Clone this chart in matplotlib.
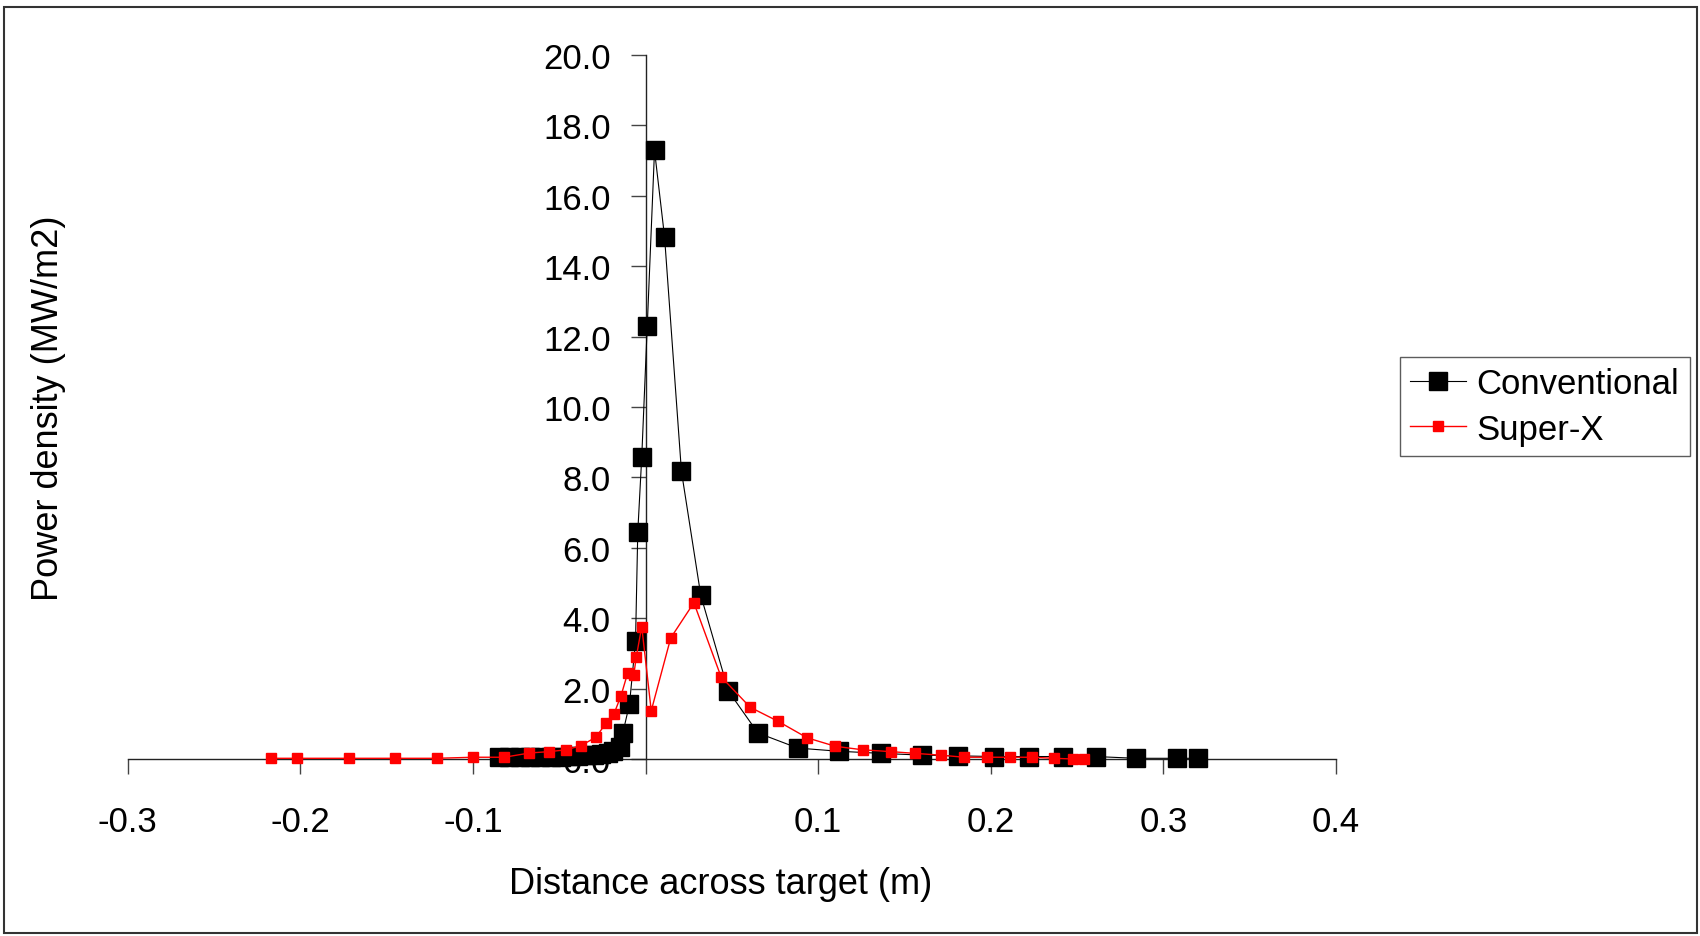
import matplotlib
matplotlib.use("Agg")
import matplotlib.pyplot as plt
from matplotlib.patches import Rectangle

plt.rcParams['font.family'] = ['Liberation Sans', 'DejaVu Sans']

# Conventional divertor
conv_x = [-0.085, -0.079, -0.073, -0.067, -0.061, -0.055, -0.049, -0.044, -0.039,
          -0.034, -0.030, -0.026, -0.022, -0.019, -0.015, -0.0132, -0.0093, -0.0058,
          -0.0045, -0.0022, 0.001, 0.0052, 0.011, 0.0208, 0.032, 0.048, 0.0651,
          0.0882, 0.112, 0.1365, 0.160, 0.181, 0.202, 0.222, 0.242, 0.2607, 0.284,
          0.3078, 0.3199]
conv_y = [0.05, 0.05, 0.06, 0.06, 0.06, 0.07, 0.07, 0.08, 0.09,
          0.10, 0.11, 0.13, 0.16, 0.22, 0.33, 0.73, 1.56, 3.34,
          6.45, 8.58, 12.31, 17.29, 14.84, 8.17, 4.65, 1.93, 0.74,
          0.31, 0.22, 0.16, 0.11, 0.09, 0.07, 0.07, 0.07, 0.07, 0.02,
          0.02, 0.02]

# Super-X divertor
sx_x = [-0.217, -0.202, -0.172, -0.145, -0.121, -0.0998, -0.0818, -0.0673, -0.0559,
        -0.046, -0.0374, -0.0287, -0.0229, -0.0183, -0.0142, -0.0103, -0.0068,
        -0.0054, -0.0022, 0.0033, 0.0146, 0.028, 0.0437, 0.0606, 0.0768, 0.0937,
        0.110, 0.126, 0.142, 0.156, 0.171, 0.1845, 0.198, 0.211, 0.224, 0.2366,
        0.2477, 0.254]
sx_y = [0.02, 0.02, 0.02, 0.02, 0.02, 0.05, 0.05, 0.17, 0.21,
        0.26, 0.38, 0.62, 1.02, 1.28, 1.80, 2.45, 2.39,
        2.89, 3.76, 1.37, 3.44, 4.44, 2.34, 1.47, 1.07, 0.60,
        0.36, 0.26, 0.21, 0.16, 0.11, 0.05, 0.05, 0.05, 0.05, 0.02,
        0.0, 0.0]

xticks = [-0.3, -0.2, -0.1, 0.0, 0.1, 0.2, 0.3, 0.4]
xticklabels = ['-0.3', '-0.2', '-0.1', '', '0.1', '0.2', '0.3', '0.4']
yticks = [0, 2, 4, 6, 8, 10, 12, 14, 16, 18, 20]

W, H = 1700, 937
fig = plt.figure(figsize=(17, 9.37), dpi=100)
ax = fig.add_axes([127.7 / W, 1 - 760 / H, (1336 - 127.7) / W, (760 - 56) / H])

ax.plot(conv_x, conv_y, color='black', lw=0.8, marker='s', ms=12.5,
        mfc='black', mec='black', label='Conventional', clip_on=False, zorder=3)
ax.plot(sx_x, sx_y, color='#ff0000', lw=1.0, marker='s', ms=7.5,
        mfc='#ff0000', mec='#ff0000', label='Super-X', clip_on=False, zorder=4)

ax.set_xlim(-0.3, 0.4)
ax.set_ylim(0, 20)
ax.spines['left'].set_position(('data', 0))
ax.spines['top'].set_visible(False)
ax.spines['right'].set_visible(False)
for s in ['left', 'bottom']:
    ax.spines[s].set_linewidth(1.0)
    ax.spines[s].set_color('#222222')

ax.set_xticks(xticks)
ax.set_xticklabels(xticklabels)
ax.set_yticks(yticks)
ax.set_yticklabels(['%.1f' % v for v in yticks])
ax.tick_params(axis='both', direction='out', length=11, width=1.0,
               color='#444444', labelsize=25)
ax.tick_params(axis='x', pad=22)
ax.tick_params(axis='y', pad=14)

fig.text(721 / W, 1 - 885 / H, 'Distance across target (m)', fontsize=26,
         ha='center', va='center')
fig.text(49 / W, 1 - 408 / H, 'Power density (MW/m2)', fontsize=26,
         ha='center', va='center', rotation=90)

leg = ax.legend(loc='upper left', bbox_to_anchor=(1400 / W, 1 - 358 / H),
                bbox_transform=fig.transFigure, fontsize=25, frameon=True,
                fancybox=False, shadow=False, handlelength=1.6,
                handletextpad=0.3, labelspacing=0.35, borderpad=0.3,
                borderaxespad=0)
leg.get_frame().set_edgecolor('#333333')
leg.get_frame().set_linewidth(1.0)

fig.patches.append(Rectangle((4 / W, 3 / H), 1693 / W, 926 / H,
                             transform=fig.transFigure, fill=False,
                             edgecolor='#333333', lw=1.5))

fig.savefig('out.png', dpi=100, facecolor='white')
